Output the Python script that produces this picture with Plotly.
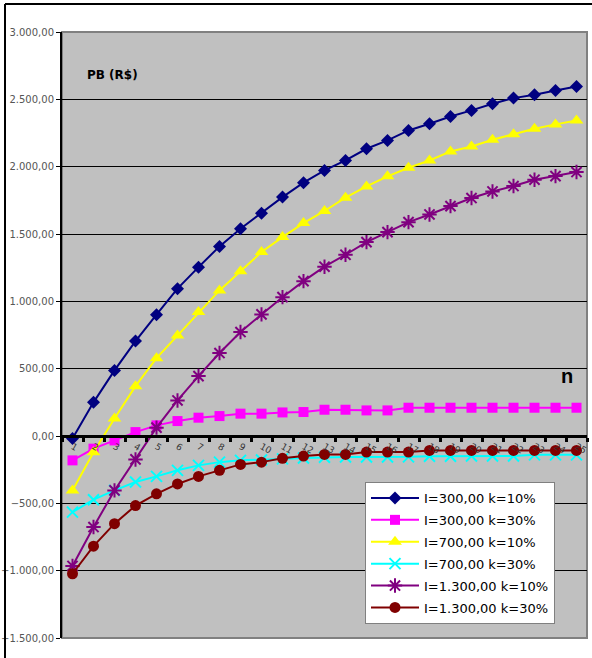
import plotly.graph_objects as go

# Periods (years) on the category axis
periods = [str(n) for n in range(1, 26)]

# Cumulative net present value PB (R$) per period, one series per scenario
pb_300_k10 = [-18, 250, 487, 705, 901, 1094, 1254, 1408, 1539, 1655, 1774, 1881, 1972,
              2046, 2133, 2195, 2269, 2319, 2373, 2418, 2467, 2509, 2534, 2566, 2596]
pb_300_k30 = [-181, -94, -33, 29, 79, 111, 136, 148, 166, 166, 175, 178, 195,
              195, 190, 190, 210, 210, 210, 210, 210, 210, 210, 210, 210]
pb_700_k10 = [-404, -120, 130, 370, 578, 747, 920, 1081, 1224, 1366, 1477, 1581, 1671,
              1770, 1853, 1928, 1992, 2046, 2113, 2150, 2200, 2240, 2282, 2314, 2343]
pb_700_k30 = [-565, -473, -404, -342, -300, -255, -218, -194, -181, -178, -170, -163, -158,
              -156, -156, -156, -155, -150, -150, -149, -149, -148, -140, -140, -140]
pb_1300_k10 = [-965, -676, -404, -174, 62, 264, 445, 616, 772, 903, 1031, 1150, 1257,
               1346, 1440, 1514, 1588, 1645, 1707, 1767, 1816, 1856, 1903, 1930, 1960]
pb_1300_k30 = [-1023, -818, -651, -517, -429, -356, -300, -255, -211, -194, -166, -149, -137,
               -137, -119, -119, -119, -107, -107, -107, -107, -107, -107, -107, -107]

series = [
    ("I=300,00 k=10%", pb_300_k10, "#000080", "diamond", 10),
    ("I=300,00 k=30%", pb_300_k30, "#FF00FF", "square", 10),
    ("I=700,00 k=10%", pb_700_k10, "#FFFF00", "triangle-up", 12),
    ("I=700,00 k=30%", pb_700_k30, "#00FFFF", "x-thin-open", 11),
    ("I=1.300,00 k=10%", pb_1300_k10, "#800080", "asterisk-open", 12),
    ("I=1.300,00 k=30%", pb_1300_k30, "#800000", "circle", 11),
]

fig = go.Figure()
for i, (name, vals, color, symbol, size) in enumerate(series):
    marker = dict(symbol=symbol, size=size, color=color)
    if symbol.endswith("-open"):
        marker["line"] = dict(color=color, width=2)
    fig.add_trace(go.Scatter(
        x=periods, y=vals, name=name, mode="lines+markers",
        line=dict(color=color, width=2), marker=marker,
        legendgroup=f"g{i}",
    ))

# Plot area bounds in pixels, used to place the outer frame in paper coords
W, H = 592, 658
ML, MR, MT, MB = 62, 5, 32, 20
pw, ph = W - ML - MR, H - MT - MB
def px(x):
    return (x - ML) / pw
def py(y):
    return (H - MB - y) / ph

fig.update_layout(
    width=W, height=H,
    margin=dict(l=ML, r=MR, t=MT, b=MB, autoexpand=False),
    paper_bgcolor="white", plot_bgcolor="#C0C0C0",
    separators=",.",
    showlegend=True,
    legend=dict(
        x=px(365), y=py(482), xanchor="left", yanchor="top",
        bgcolor="white", bordercolor="#808080", borderwidth=1,
        font=dict(family="DejaVu Sans", size=13, color="black"),
        itemwidth=48, tracegroupgap=2,
    ),
    xaxis=dict(
        type="category", tickson="boundaries",
        range=[-0.5, 24.5], autorange=False,
        anchor="free", position=1500 / 4500,
        showline=True, linecolor="black", linewidth=3,
        ticks="outside", ticklen=4, tickwidth=3, tickcolor="black",
        showgrid=False, automargin=False,
        tickfont=dict(family="DejaVu Sans", size=9, color="#333333"),
    ),
    yaxis=dict(
        range=[-1500, 3000], dtick=500, tick0=0,
        tickformat=",.2f", automargin=False,
        showline=True, linecolor="black", linewidth=2,
        ticks="outside", ticklen=4, tickcolor="black",
        showgrid=True, gridcolor="black", gridwidth=1,
        zeroline=False,
        tickfont=dict(family="DejaVu Sans", size=10, color="#555555"),
    ),
    shapes=[
        # plot area border (top, right, bottom)
        dict(type="rect", xref="paper", yref="paper", x0=0, x1=1, y0=0, y1=1,
             line=dict(color="#808080", width=2), layer="below"),
        # outer chart frame
        dict(type="line", xref="paper", yref="paper", x0=px(5), x1=px(5),
             y0=py(4), y1=py(670), line=dict(color="black", width=2)),
        dict(type="line", xref="paper", yref="paper", x0=px(5), x1=px(600),
             y0=py(4), y1=py(4), line=dict(color="black", width=2)),
    ],
    annotations=[
        dict(text="<b>PB (R$)</b>", xref="paper", yref="paper",
             x=px(85), y=py(75), xanchor="left", yanchor="middle", showarrow=False,
             font=dict(family="DejaVu Sans", size=12, color="black")),
        dict(text="<b>n</b>", xref="paper", yref="paper",
             x=px(567), y=py(376), xanchor="center", yanchor="middle", showarrow=False,
             font=dict(family="Liberation Sans", size=20, color="black")),
    ],
)

fig.write_html("out.html")
